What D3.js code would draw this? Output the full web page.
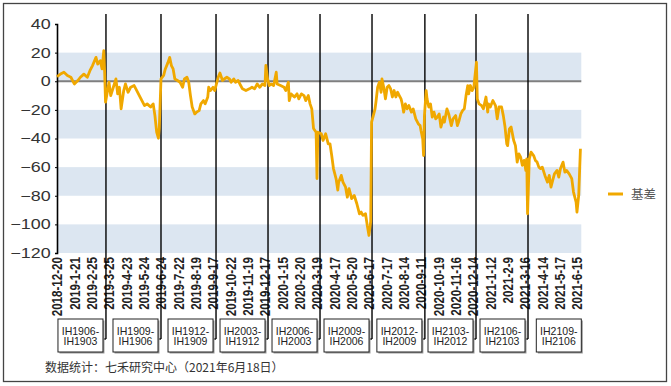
<!DOCTYPE html>
<html>
<head>
<meta charset="utf-8">
<script src="https://cdn.jsdelivr.net/npm/d3@7"></script>
<style>
body { margin: 0; background: #fff; }
svg { display: block; font-family: Arial, "Liberation Sans", sans-serif; }
</style>
</head>
<body>
<svg id="chart" width="671" height="386"></svg>
<script>
// date labels, one every 20 trading days
var tickDates = ["2018-12-20","2019-1-21","2019-2-25","2019-3-25","2019-4-23","2019-5-24","2019-6-24",
    "2019-7-22","2019-8-19","2019-9-17","2019-10-22","2019-11-19","2019-12-17","2020-1-15","2020-2-20",
    "2020-3-19","2020-4-17","2020-5-20","2020-6-17","2020-7-17","2020-8-14","2020-9-11","2020-10-19",
    "2020-11-16","2020-12-14","2021-1-12","2021-2-9","2021-3-16","2021-4-14","2021-5-17","2021-6-15"];

// trading day number (from 2018-12-20) and basis value
var dayIndex = [0,4,8,12,16,20,24,27,31,35,38,41,45,47,50,52,54,55,56,58,60,62,65,68,70,72,74,77,79,82,85,89,91,95,98,
    101,104,108,111,113,115,117,118,120,123,125,128,130,132,134,136,139,142,145,147,150,152,154,156,159,161,164,166,169,171,
    174,175,177,180,182,184,186,188,191,193,196,199,201,204,206,209,211,214,218,222,225,228,231,234,237,240,241,243,245,247,
    250,253,254,258,262,264,267,268,270,274,277,279,282,285,287,290,292,294,296,299,300,301,305,307,310,313,315,317,319,322,
    324,325,328,330,333,335,337,340,343,346,349,351,353,356,358,360,362,363,365,367,368,370,372,374,375,377,379,381,383,385,
    387,389,391,393,395,397,398,400,402,404,406,409,411,414,417,419,420,422,423,424,426,427,429,431,433,435,437,439,441,443,
    446,447,450,452,455,457,460,462,464,466,468,470,472,474,475,477,479,481,484,485,487,490,492,495,497,498,500,503,506,508,
    510,513,515,517,519,520,522,524,527,529,531,533,535,537,539,541,542,543,545,547,550,552,554,556,558,560,563,566,568,570,
    572,574,577,579,581,584,586,588,591,594,596,599,600,602,604];
var basis = [3.3,5,6.3,4,2.8,-1.9,0.5,2.8,5,2.8,7.4,11,16.7,12,14.4,8.6,21.4,6,-14.6,-7.7,-0.7,-10,-4.2,1.6,-8.8,-4.2,-19.3,-6.5,-1.9,-7.7,-4.2,-3,-5.3,-10,-13.5,
    -17,-15.8,-18,-15.8,-24,-35.6,-39.8,-33,1.6,4,8.6,13,16.7,11,8.6,1.6,0.5,-0.7,-4.2,1.6,2.8,-0.7,-10,-18,-22.8,-21.6,-20.5,-15.8,-13.5,-15.8,
    -11,-4.2,-6.5,-4.2,-6.5,-1.9,2.8,5.8,0.5,1.6,2.8,1.6,-0.7,1.6,-0.7,0.5,-1.9,-5.3,-6.5,-5.3,-4.2,-5.3,-1.9,-4.2,-1.9,-3,11,1.6,-3,-1.9,
    -3,6.3,-1.9,-3,-4.2,-6.5,-0.7,-13.5,-8.8,-11,-8.8,-12.3,-8.8,-10,-13.5,-10,-15.8,-19.3,-33,-35.6,-68,-35.6,-36.7,-41.4,-36.7,-43.7,-43.7,-51.9,-61,-68,
    -76,-70.5,-65.8,-70.5,-74,-81,-75,-82,-79.8,-85.6,-92.6,-91.4,-93.7,-92.6,-100.7,-107.7,-98,-28.6,-24,-19.3,-14.7,-4.2,-0.7,-7.7,1.6,-4.2,-12.3,-4.2,-3,-5.3,
    -11,-6.5,-11,-7.7,-10,-12.3,-14.7,-21.6,-15.8,-19.3,-17,-21.6,-19.3,-26.3,-29.8,-31,-34.4,-40.2,-51.9,-24,-6.5,-12.3,-18,-15.8,-25,-21.6,-26.3,-25,-22.8,-32,
    -25,-28.6,-19.3,-22.8,-31,-26.3,-24,-31,-27.4,-22.8,-20.5,-19.3,-10,-3,-8.8,-3,-6.5,-4.2,13.3,-12.3,-15.8,-17,-19.3,-11,-21.6,-15.8,-18,-13.5,-17,-26.3,
    -18,-18,-24,-32,-43.7,-45,-33.3,-32,-41.4,-45,-56.5,-50.7,-53,-58.8,-55.3,-62.3,-54.2,-92.6,-54.2,-49.5,-51.9,-55.3,-56.5,-60,-61,-60,-65.8,-70.5,-65.8,-74,
    -69.3,-64.7,-62.3,-67,-61,-56.5,-63.5,-62.3,-64.7,-68,-77.4,-84.4,-91.4,-79.8,-47.2];

// contract roll days and the spread names
var rollDays = [56.5,120,183.5,243.5,303.5,363.5,424.5,483.5,543.5];
var spreadNear = ["IH1906-","IH1909-","IH1912-","IH2003-","IH2006-","IH2009-","IH2012-","IH2103-","IH2106-","IH2109-"];
var spreadFar = ["IH1903","IH1906","IH1909","IH1912","IH2003","IH2006","IH2009","IH2012","IH2103","IH2106"];

var yTicks = [40,20,0,-20,-40,-60,-80,-100,-120];
var bands = [[0,20],[-40,-20],[-80,-60],[-120,-100]];

var svg = d3.select("#chart");
var orange = "#f0a800";

var x = d3.scaleLinear().domain([0, 605]).range([57, 581.3]);
var y = d3.scaleLinear().domain([-120, 40]).range([253, 24]);

// outer frame
svg.append("rect")
    .attr("x", 3.5).attr("y", 3.5)
    .attr("width", 663).attr("height", 378)
    .attr("fill", "#fff")
    .attr("stroke", "#444")
    .attr("stroke-width", 1.3);

// shaded bands
svg.selectAll("rect.band")
    .data(bands)
    .enter()
    .append("rect")
    .attr("class", "band")
    .attr("x", x(0))
    .attr("y", function(d){ return y(d[1]); })
    .attr("width", x(605) - x(0))
    .attr("height", function(d){ return y(d[0]) - y(d[1]); })
    .attr("fill", "#dce6f1");

// zero line
svg.append("line")
    .attr("x1", x(0)).attr("x2", x(605))
    .attr("y1", y(0)).attr("y2", y(0))
    .attr("stroke", "#7f7f7f")
    .attr("stroke-width", 2);

// y axis
var yAxis = svg.append("g")
    .attr("transform", "translate(" + x(0) + ",0)")
    .call(d3.axisLeft(y).tickValues(yTicks).tickSize(2).tickPadding(3));
yAxis.select(".domain").attr("stroke", "#000").attr("stroke-width", 1.6);
yAxis.selectAll(".tick line").attr("stroke", "#000");
yAxis.selectAll(".tick text")
    .attr("fill", "#333")
    .style("font-size", "14px")
    .attr("transform", "scale(1.28,1)");

// x axis labels
var xAxis = svg.append("g")
    .attr("transform", "translate(0," + 253 + ")")
    .call(d3.axisBottom(x)
        .tickValues(d3.range(tickDates.length).map(function(i){ return i * 20; }))
        .tickFormat(function(d){ return tickDates[d / 20]; })
        .tickSize(0));
xAxis.select(".domain").remove();
xAxis.selectAll(".tick text")
    .attr("y", 0)
    .attr("x", 0)
    .attr("dy", "0.35em")
    .attr("text-anchor", "end")
    .attr("fill", "#222")
    .style("font-size", "11.6px")
    .style("font-weight", "bold")
    .attr("transform", "translate(0,4) scale(1.2,1) rotate(-90)");

// roll lines with the spread boxes
var boxW = 45, boxTop = 319, boxH = 33, hookY = 339;
var boxRight = function(i) {
    return i < rollDays.length ? x(rollDays[i]) - 3 : x(605);
};

svg.selectAll("line.roll")
    .data(rollDays)
    .enter()
    .append("line")
    .attr("class", "roll")
    .attr("x1", function(d){ return x(d); })
    .attr("x2", function(d){ return x(d); })
    .attr("y1", 14)
    .attr("y2", hookY)
    .attr("stroke", "#000")
    .attr("stroke-width", 1.4);

svg.selectAll("line.hook")
    .data(rollDays)
    .enter()
    .append("line")
    .attr("class", "hook")
    .attr("x1", function(d){ return x(d); })
    .attr("x2", function(d, i){ return boxRight(i); })
    .attr("y1", hookY)
    .attr("y2", hookY)
    .attr("stroke", "#000")
    .attr("stroke-width", 1.4);

var boxes = svg.selectAll("g.spread")
    .data(spreadNear)
    .enter()
    .append("g")
    .attr("class", "spread")
    .attr("transform", function(d, i){ return "translate(" + (boxRight(i) - boxW) + "," + boxTop + ")"; });

boxes.append("rect")
    .attr("x", 1.5).attr("y", 1.5)
    .attr("width", boxW).attr("height", boxH)
    .attr("fill", "#9a9a9a");
boxes.append("rect")
    .attr("width", boxW).attr("height", boxH)
    .attr("fill", "#fff")
    .attr("stroke", "#222")
    .attr("stroke-width", 1);
boxes.append("text")
    .attr("x", boxW / 2).attr("y", 15.5)
    .attr("text-anchor", "middle")
    .attr("fill", "#222")
    .style("font-size", "10.5px")
    .text(function(d){ return d; });
boxes.append("text")
    .attr("x", boxW / 2).attr("y", 26)
    .attr("text-anchor", "middle")
    .attr("fill", "#222")
    .style("font-size", "10.5px")
    .text(function(d, i){ return spreadFar[i]; });

// basis line
var line = d3.line()
    .x(function(d){ return x(d[0]); })
    .y(function(d){ return y(d[1]); });

svg.append("path")
    .datum(d3.zip(dayIndex, basis))
    .attr("d", line)
    .attr("fill", "none")
    .attr("stroke", orange)
    .attr("stroke-width", 2.8)
    .attr("stroke-linejoin", "round");

// legend
svg.append("line")
    .attr("x1", 608).attr("x2", 623)
    .attr("y1", 194).attr("y2", 194)
    .attr("stroke", orange)
    .attr("stroke-width", 3);
svg.append("text")
    .attr("x", 631).attr("y", 198.5)
    .attr("fill", "#555")
    .style("font-size", "12.5px")
    .style("font-family", "'Noto Sans CJK SC', sans-serif")
    .text("基差");

// source note
svg.append("text")
    .attr("x", 45).attr("y", 372)
    .attr("fill", "#333")
    .style("font-size", "12px")
    .style("font-family", "'Noto Sans CJK SC', sans-serif")
    .text("数据统计：七禾研究中心（2021年6月18日）");
</script>
</body>
</html>
